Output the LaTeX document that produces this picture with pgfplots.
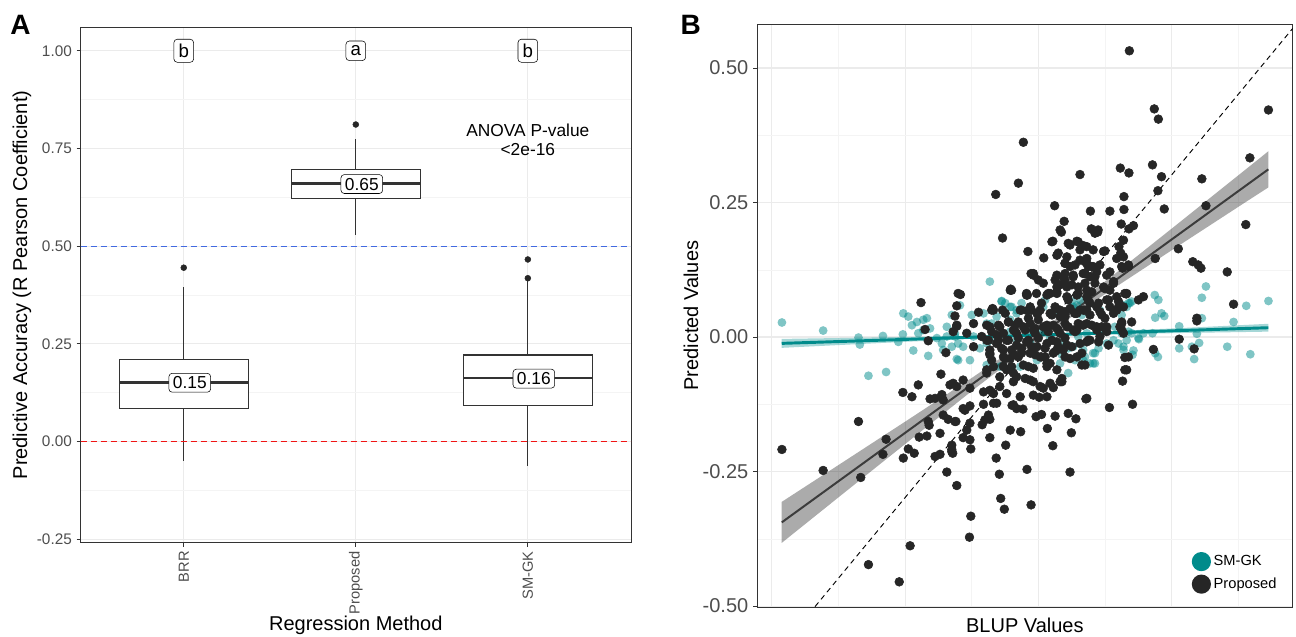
\documentclass[border=0pt]{standalone}
\usepackage{pgfplots}
\pgfplotsset{compat=1.18}
\usepackage{fontspec}
\setmainfont{Liberation Sans}
\definecolor{gridc}{RGB}{235,235,235}
\definecolor{minc}{RGB}{244,244,244}
\definecolor{framec}{RGB}{51,51,51}
\definecolor{ticktext}{RGB}{77,77,77}
\definecolor{tealc}{RGB}{0,139,139}
\definecolor{dotc}{RGB}{38,38,38}
\definecolor{blueln}{RGB}{65,105,225}
\definecolor{redln}{RGB}{240,20,20}
\definecolor{fitc}{RGB}{60,60,60}
\begin{document}
\begin{tikzpicture}[x=1pt,y=1pt]
\useasboundingbox (0,0) rectangle (972,477);
\node[font=\fontsize{21}{24}\selectfont\bfseries] at (15.4,458) {A};
\node[font=\fontsize{21}{24}\selectfont\bfseries] at (518,458) {B};
% ---------------- Panel A ----------------
\begin{axis}[
  at={(60.4pt,70pt)}, anchor=south west, scale only axis,
  width=412.9pt, height=386.5pt,
  xmin=0.4, xmax=3.6, ymin=-0.2587, ymax=1.06,
  xtick={1,2,3}, xticklabels={BRR,Proposed,SM-GK},
  ytick={-0.25,0,0.25,0.5,0.75,1},
  yticklabels={-0.25,0.00,0.25,0.50,0.75,1.00},
  minor ytick={-0.125,0.125,0.375,0.625,0.875},
  grid=both,
  major grid style={gridc, line width=0.8pt},
  minor grid style={minc, line width=0.4pt},
  axis line style={framec, line width=0.6pt},
  tick align=outside, major tick length=3pt, minor tick length=0pt,
  tick style={framec, line width=0.6pt},
  xtick pos=bottom, ytick pos=left,
  yticklabel style={font=\fontsize{11.5}{13}\selectfont, text=ticktext},
  xticklabel style={font=\fontsize{11}{13}\selectfont, text=ticktext, rotate=90, anchor=east},
  xlabel={Regression Method},
  ylabel={Predictive Accuracy (R Pearson Coefficient)},
  label style={font=\fontsize{15}{18}\selectfont},
  xlabel style={at={(axis description cs:0.5,-0.1713)}, anchor=base},
  ylabel style={at={(axis description cs:-0.0972,0.5)}, anchor=base},
]
\addplot[blueln, solid, line width=0.9pt, dash pattern=on 4.5pt off 3pt] coordinates {(0.4,0.5) (3.6,0.5)};
% whiskers
\addplot[framec, line width=0.9pt] coordinates {(1,-0.0495) (1,0.396)};
\addplot[framec, line width=0.9pt] coordinates {(2,0.529) (2,0.7736)};
\addplot[framec, line width=0.9pt] coordinates {(3,-0.0615) (3,0.410)};
% zero reference line
\addplot[draw=redln, solid, line width=0.9pt, dash pattern=on 4.5pt off 3pt] coordinates {(0.4,0.0005) (3.6,0.0005)};
% boxes (lower quartile, upper quartile)
\addplot[draw=framec, line width=0.9pt, fill=white] coordinates {(0.625,0.0838) (1.375,0.0838) (1.375,0.2095) (0.625,0.2095) (0.625,0.0838)};
\addplot[draw=framec, line width=0.9pt, fill=white] coordinates {(1.625,0.6223) (2.375,0.6223) (2.375,0.6967) (1.625,0.6967) (1.625,0.6223)};
\addplot[draw=framec, line width=0.9pt, fill=white] coordinates {(2.625,0.0933) (3.375,0.0933) (3.375,0.2215) (2.625,0.2215) (2.625,0.0933)};
% medians
\addplot[framec, line width=1.9pt] coordinates {(0.625,0.1505) (1.375,0.1505)};
\addplot[framec, line width=1.9pt] coordinates {(1.625,0.6608) (2.375,0.6608)};
\addplot[framec, line width=1.9pt] coordinates {(2.625,0.163) (3.375,0.163)};
% outliers
\addplot[only marks, mark=*, mark size=2.2pt, color=dotc, mark options={draw=none, fill=dotc}] coordinates {(1,0.445) (2,0.8113) (3,0.466) (3,0.418)};
\tikzset{lab/.style={draw=black, line width=0.4pt, rounded corners=2.5pt, fill=white,
   inner xsep=3pt, inner ysep=2.5pt, font=\fontsize{13}{15}\selectfont}}
\node[lab] at (axis cs:1.035,0.1505) {0.15};
\node[lab] at (axis cs:2.035,0.6590) {0.65};
\node[lab] at (axis cs:3.035,0.1610) {0.16};
\node[lab, font=\fontsize{14}{16}\selectfont, inner xsep=3.5pt, inner ysep=3.5pt] at (axis cs:1,1.0) {b};
\node[lab, font=\fontsize{14}{16}\selectfont, inner xsep=3.5pt, inner ysep=3.5pt] at (axis cs:2,1.0) {a};
\node[lab, font=\fontsize{14}{16}\selectfont, inner xsep=3.5pt, inner ysep=3.5pt] at (axis cs:3,1.0) {b};
\node[align=center, font=\fontsize{13}{14.3}\selectfont] at (axis cs:3,0.773) {ANOVA P-value\\<2e-16};
\end{axis}
% ---------------- Panel B ----------------
\begin{axis}[
  at={(567.75pt,21.5pt)}, anchor=south west, scale only axis,
  width=401.8pt, height=437.5pt,
  xmin=-0.627, xmax=0.5556, ymin=-0.5024, ymax=0.5818,
  xtick={-0.5945,-0.3002,-0.006,0.287}, xticklabels={},
  minor xtick={-0.4474,-0.1530,0.1407,0.4358},
  ytick={-0.5,-0.25,0,0.25,0.5},
  yticklabels={-0.50,-0.25,0.00,0.25,0.50},
  minor ytick={-0.375,-0.125,0.125,0.375},
  grid=both,
  major grid style={gridc, line width=0.8pt},
  minor grid style={minc, line width=0.4pt},
  axis line style={framec, line width=0.6pt},
  tick align=outside, major tick length=3pt, minor tick length=0pt,
  tick style={framec, line width=0.6pt},
  xtick style={draw=none},
  ytick pos=left,
  yticklabel style={font=\fontsize{15}{17}\selectfont, text=ticktext},
  xlabel={BLUP Values}, ylabel={Predicted Values},
  label style={font=\fontsize{15}{18}\selectfont},
  xlabel style={at={(axis description cs:0.5,-0.0423)}, anchor=base},
  ylabel style={at={(axis description cs:-0.110,0.5)}, anchor=base},
  legend style={at={(axis description cs:1,0)}, anchor=south east, xshift=-7pt, yshift=8pt,
     draw=none, fill=none, font=\fontsize{11}{13}\selectfont, row sep=2.5pt},
  legend cell align=left,
]
\addplot[only marks, draw=none, color=tealc, mark=*, mark size=3.3pt, mark options={draw=none, draw opacity=0, fill=tealc, fill opacity=0.5},
  legend image code/.code={\fill[tealc] (0.22cm,0cm) circle (7.2pt);}] table {
x y
-0.113 0.103
-0.087 0.067
-0.153 0.041
-0.179 0.059
-0.068 0.056
-0.054 0.050
0.005 0.056
0.123 0.056
0.196 0.063
0.364 0.094
0.355 0.073
0.251 0.078
0.259 0.069
0.266 0.044
0.272 0.039
0.453 0.058
0.502 0.067
0.189 0.056
0.252 0.036
0.355 0.035
0.425 0.028
0.305 0.020
0.344 0.006
0.349 -0.011
0.305 -0.021
0.333 -0.018
0.338 -0.041
0.411 -0.018
0.462 -0.032
0.246 0.007
0.226 0.007
0.216 -0.004
0.204 -0.025
0.202 -0.033
0.258 -0.037
0.252 -0.030
0.182 -0.024
0.189 -0.006
0.193 0.010
0.178 0.007
-0.572 0.027
-0.481 0.012
-0.403 -0.001
-0.400 -0.014
-0.349 0.002
-0.315 -0.009
-0.305 0.005
-0.381 -0.072
-0.342 -0.065
-0.282 -0.025
-0.304 0.044
-0.293 0.038
-0.285 0.022
-0.274 0.028
-0.260 0.032
-0.252 0.035
-0.245 0.016
-0.271 0.007
-0.260 0.013
-0.249 -0.035
-0.230 -0.002
-0.219 -0.012
-0.208 0.001
-0.197 -0.018
-0.216 -0.024
-0.186 -0.041
-0.190 0.007
-0.208 0.019
-0.183 -0.012
-0.197 0.041
-0.127 0.044
-0.079 0.063
0.079 0.059
0.090 0.041
0.130 0.050
0.182 0.059
0.200 0.066
0.215 -0.002
0.182 -0.018
0.160 -0.006
0.115 -0.030
0.093 -0.024
0.071 -0.018
0.115 -0.049
0.060 -0.067
0.042 -0.049
-0.009 -0.043
-0.046 -0.055
-0.091 -0.055
-0.120 -0.052
-0.157 -0.043
-0.183 -0.043
-0.172 -0.018
-0.135 -0.021
-0.113 -0.006
-0.054 -0.006
-0.024 -0.012
0.020 -0.002
0.049 -0.009
0.101 0.007
-0.002 0.010
-0.068 0.010
-0.149 0.001
-0.190 0.001
0.108 -0.049
0.119 -0.030
0.093 -0.043
0.145 -0.012
-0.120 0.025
-0.098 0.038
-0.068 0.032
-0.054 0.044
-0.024 0.050
0.035 0.044
0.071 0.056
0.086 0.069
0.101 0.050
-0.087 0.066
-0.065 0.056
-0.043 0.063
0.009 0.069
0.068 0.066
0.193 0.063
0.178 0.041
0.163 0.019
0.200 0.007
0.171 -0.012
0.127 -0.021
0.097 -0.037
0.060 -0.021
0.046 -0.033
0.119 -0.049
0.075 -0.043
-0.109 0.025
-0.120 -0.012
-0.021 0.010
0.082 0.001
};
\addlegendentry{SM-GK}
\addplot[only marks, draw=none, color=dotc, mark=*, mark size=3.3pt, mark options={draw=none, fill=dotc},
  legend image code/.code={\fill[dotc] (0.22cm,0cm) circle (7.2pt);}] table {
x y
0.195 0.532
-0.039 0.362
-0.050 0.286
-0.100 0.265
0.086 0.302
0.175 0.314
0.194 0.305
0.250 0.424
0.259 0.405
0.502 0.422
0.461 0.333
0.246 0.320
0.266 0.298
0.258 0.272
0.272 0.238
0.355 0.294
0.364 0.244
0.452 0.209
0.303 0.164
0.252 0.146
0.335 0.140
0.347 0.134
0.353 0.128
0.411 0.121
0.188 0.080
0.425 0.061
0.344 0.035
0.030 0.244
-0.085 0.184
-0.029 0.159
0.051 0.215
0.045 0.195
0.109 0.234
0.152 0.234
0.183 0.261
0.183 0.237
0.177 0.210
0.111 0.201
0.125 0.195
0.194 0.201
0.204 0.207
0.026 0.178
0.006 0.147
-0.022 0.118
-0.067 0.089
-0.030 0.078
-0.178 0.079
-0.186 0.058
-0.138 0.046
-0.107 0.053
0.079 0.178
0.093 0.170
0.060 0.174
0.086 0.162
0.115 0.162
0.141 0.160
0.172 0.168
0.176 0.156
0.167 0.146
0.182 0.149
0.180 0.128
0.101 0.146
0.104 0.131
0.093 0.118
0.108 0.112
0.123 0.121
0.038 0.156
0.057 0.149
0.053 0.137
0.064 0.131
0.049 0.112
0.071 0.112
0.082 0.093
0.057 0.093
0.035 0.093
0.020 0.081
0.013 0.078
0.138 0.093
0.152 0.087
0.167 0.075
0.189 0.081
0.215 0.069
0.226 0.075
0.101 0.075
0.108 0.063
0.123 0.056
0.093 0.050
0.079 0.044
0.145 0.069
0.152 0.056
0.167 0.050
0.182 0.056
-0.043 0.050
-0.024 0.056
-0.009 0.044
0.020 0.044
0.042 0.050
0.182 0.180
0.193 0.131
0.344 0.030
0.305 -0.004
0.338 -0.022
0.248 -0.023
0.185 -0.038
0.189 -0.061
0.180 -0.082
0.202 -0.125
0.178 0.025
-0.183 0.081
-0.265 0.064
-0.190 0.039
-0.186 0.020
-0.256 0.014
-0.249 -0.007
-0.210 -0.029
-0.221 -0.069
-0.271 -0.089
-0.305 -0.103
-0.285 -0.111
-0.245 -0.115
-0.234 -0.114
-0.219 -0.107
-0.216 -0.117
-0.201 -0.089
-0.186 -0.092
-0.403 -0.157
-0.342 -0.190
-0.349 -0.218
-0.572 -0.209
-0.481 -0.248
-0.398 -0.261
-0.293 -0.208
-0.280 -0.216
-0.304 -0.225
-0.269 -0.186
-0.252 -0.184
-0.249 -0.157
-0.247 -0.164
-0.223 -0.179
-0.216 -0.145
-0.205 -0.153
-0.190 -0.157
-0.234 -0.222
-0.223 -0.218
-0.197 -0.209
-0.195 -0.216
-0.208 -0.251
-0.186 -0.276
-0.289 -0.388
-0.381 -0.423
-0.313 -0.455
-0.155 -0.333
-0.158 -0.372
-0.089 -0.300
-0.081 -0.320
-0.022 -0.312
-0.092 -0.255
-0.031 -0.246
0.064 -0.251
-0.099 -0.225
-0.078 -0.201
-0.113 -0.187
-0.068 -0.173
-0.045 -0.176
0.026 -0.202
0.067 -0.178
0.014 -0.170
-0.011 -0.148
0.001 -0.144
0.031 -0.147
0.060 -0.142
0.077 -0.152
0.099 -0.115
0.151 -0.131
-0.004 -0.112
-0.064 -0.127
-0.054 -0.133
-0.040 -0.134
-0.130 -0.163
-0.113 -0.153
-0.124 -0.154
-0.157 -0.191
-0.155 -0.208
-0.172 -0.187
-0.164 -0.173
-0.157 -0.160
-0.188 -0.157
-0.197 -0.213
-0.197 -0.201
-0.172 -0.133
-0.157 -0.128
-0.168 -0.136
-0.127 -0.125
-0.105 -0.123
-0.116 -0.145
-0.105 0.050
-0.085 0.050
-0.046 0.050
-0.030 0.049
-0.008 0.043
0.033 0.053
0.053 0.047
0.075 0.044
0.101 0.050
0.134 0.041
0.171 0.066
-0.186 0.022
-0.149 0.025
-0.120 0.022
-0.091 0.019
-0.072 0.028
-0.057 0.022
-0.024 0.025
0.005 0.019
0.027 0.022
0.053 0.025
0.071 0.013
0.093 0.022
0.123 0.019
0.145 0.010
0.174 0.019
0.182 0.007
0.130 0.001
0.101 -0.009
0.042 0.007
-0.013 0.007
-0.054 0.007
-0.098 0.004
-0.131 0.001
-0.164 0.007
-0.194 0.010
-0.149 -0.018
-0.113 -0.033
-0.083 -0.024
-0.068 -0.040
-0.043 -0.030
-0.017 -0.024
0.001 -0.037
0.020 -0.049
0.035 -0.024
0.064 -0.040
0.090 -0.052
-0.083 -0.055
-0.061 -0.067
-0.035 -0.077
-0.017 -0.083
0.005 -0.095
0.027 -0.094
0.046 -0.083
-0.054 -0.074
-0.091 -0.092
-0.105 -0.105
-0.127 -0.102
-0.157 -0.095
-0.172 -0.080
-0.194 -0.086
0.024 0.177
0.042 0.199
0.064 0.171
0.082 0.177
0.101 0.168
0.119 0.193
0.126 0.199
0.035 0.152
0.086 0.143
0.101 0.137
0.115 0.131
0.097 0.118
0.053 0.106
0.031 0.106
0.005 0.100
-0.017 0.118
-0.006 0.106
-0.068 0.087
-0.032 0.081
-0.010 0.081
0.016 0.081
0.035 0.084
0.057 0.075
0.079 0.078
0.101 0.087
0.119 0.100
0.145 0.115
0.160 0.103
0.138 0.159
-0.002 0.050
0.042 0.038
0.064 0.053
0.086 0.050
0.108 0.041
0.130 0.047
0.160 0.044
-0.113 0.019
-0.061 0.013
-0.039 0.019
-0.017 0.013
0.013 0.022
0.035 0.016
0.057 0.019
0.079 0.013
0.101 0.025
0.123 0.013
0.145 0.019
-0.120 -0.006
-0.098 -0.012
-0.076 -0.006
-0.054 -0.015
-0.032 -0.009
-0.009 -0.018
0.013 -0.012
0.035 -0.009
0.057 -0.015
0.086 -0.012
0.108 -0.006
-0.113 -0.030
-0.083 -0.037
-0.061 -0.033
-0.024 -0.030
-0.002 -0.037
0.027 -0.030
0.049 -0.024
0.079 -0.037
-0.105 -0.055
-0.076 -0.061
-0.039 -0.052
-0.017 -0.058
0.013 -0.049
0.035 -0.061
-0.120 -0.067
-0.091 -0.074
-0.061 -0.083
-0.024 -0.080
-0.002 -0.092
0.020 -0.086
0.042 -0.083
-0.113 -0.099
-0.076 -0.105
-0.046 -0.111
-0.017 -0.108
0.013 -0.111
-0.098 -0.123
-0.061 -0.126
0.101 -0.114
0.053 0.137
0.075 0.134
0.097 0.140
0.112 0.131
0.130 0.134
0.152 0.121
0.178 0.131
0.193 0.134
-0.017 0.115
0.035 0.115
0.053 0.118
0.071 0.115
0.097 0.118
0.119 0.112
0.097 0.100
0.068 0.097
0.042 0.097
0.035 0.081
-0.032 0.078
-0.065 0.087
0.082 0.081
0.112 0.084
0.141 0.090
0.160 0.100
0.185 0.081
0.149 0.069
0.171 0.056
0.127 0.063
0.104 0.069
0.060 0.069
0.031 0.056
0.001 0.063
-0.021 0.050
-0.079 0.044
-0.109 0.050
0.097 0.050
0.075 0.044
0.053 0.038
0.024 0.041
-0.006 0.032
-0.028 0.035
-0.050 0.028
-0.072 0.028
-0.094 0.022
0.141 0.035
0.178 0.028
0.200 0.028
0.134 0.019
0.112 0.022
0.082 0.025
0.060 0.019
0.038 0.013
0.016 0.010
-0.013 0.016
-0.035 0.013
-0.057 0.010
-0.083 0.007
-0.109 0.010
-0.116 -0.006
-0.094 -0.006
-0.072 -0.006
-0.050 -0.002
-0.028 -0.006
-0.006 -0.002
0.024 -0.006
0.053 -0.002
0.075 0.010
0.104 -0.006
0.127 -0.009
0.149 -0.015
0.178 0.013
-0.113 -0.024
-0.087 -0.021
-0.065 -0.024
-0.043 -0.021
-0.021 -0.018
0.009 -0.021
0.038 -0.018
0.068 -0.018
-0.109 -0.043
-0.079 -0.040
-0.050 -0.037
-0.013 -0.033
0.009 -0.037
0.031 -0.027
0.053 -0.037
0.090 -0.030
0.013 -0.055
0.046 -0.077
0.097 -0.052
0.193 -0.037
0.185 -0.061
-0.120 -0.061
-0.028 -0.055
-0.065 -0.055
};
\addlegendentry{Proposed}
% teal fit
\addplot[forget plot, fill=tealc, fill opacity=0.35, draw=none] coordinates {
(-0.5724,-0.0035) (-0.3,0.0001) (0,0.0052) (0.3,0.0163) (0.5018,0.0246)
(0.5018,0.0100) (0.3,0.0073) (0,0.0022) (-0.3,-0.0089) (-0.5724,-0.0201)};
\addplot[forget plot, tealc, line width=2.2pt] coordinates {(-0.5724,-0.0118) (0.5018,0.0173)};
% proposed fit
\addplot[forget plot, fill=black, fill opacity=0.33, draw=none] coordinates {
(-0.5724,-0.3064) (-0.45,-0.2395) (-0.3,-0.1573) (-0.15,-0.0744) (0,0.0122)
(0.15,0.1088) (0.3,0.2093) (0.45,0.3103) (0.5018,0.3453)
(0.5018,0.2781) (0.45,0.2499) (0.3,0.1677) (0.15,0.0848) (0,-0.0018)
(-0.15,-0.0984) (-0.3,-0.1989) (-0.45,-0.2999) (-0.5724,-0.3826)};
\addplot[forget plot, fitc, line width=1.5pt] coordinates {(-0.5724,-0.3445) (0.5018,0.3117)};
% identity line
\addplot[forget plot, black, line width=0.7pt, dash pattern=on 4pt off 3pt] coordinates {(-0.4989,-0.501) (0.5556,0.5737)};
\end{axis}
\end{tikzpicture}
\end{document}
